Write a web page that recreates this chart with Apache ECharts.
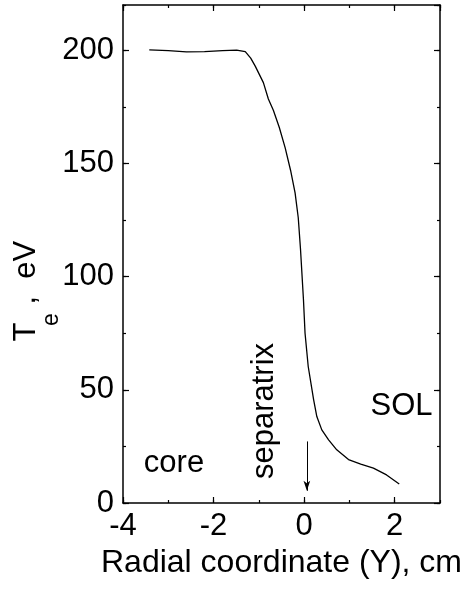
<!DOCTYPE html>
<html>
<head>
<meta charset="utf-8">
<script src="https://cdn.jsdelivr.net/npm/echarts@6/dist/echarts.min.js"></script>
<style>
  html, body { margin: 0; padding: 0; background: #fff; }
  #chart { width: 472px; height: 593px; }
</style>
</head>
<body>
<div id="chart"></div>
<script>
// Electron temperature profile across the separatrix
const radialCm = [-3.42, -3.0, -2.6, -2.2, -1.8, -1.49, -1.30, -1.18, -1.08, -0.90, -0.79, -0.68,
  -0.55, -0.42, -0.30, -0.20, -0.13, -0.08, -0.015, 0.02, 0.09, 0.21, 0.28, 0.39, 0.54, 0.72,
  0.98, 1.25, 1.53, 1.82, 2.10];
const teEv = [200.2, 199.8, 199.3, 199.4, 199.8, 200.1, 199.4, 196.5, 193, 185.7, 178.5, 173.5,
  166, 157, 147, 137, 126, 112, 89.8, 75, 60.3, 45.6, 38.2, 32.3, 27.9, 23.5,
  19.2, 17.2, 15.4, 12.4, 8.4];

// axis ranges and tick steps
const xRange = [-4, 3];
const xSteps = [2, 1];      // major, minor
const yRange = [0, 220];
const ySteps = [50, 25];

// separatrix marker arrow: x position, start and end temperature
const arrowX = 0.06;
const arrowTe = [27.2, 5.4];

const FONT = '"Liberation Sans", Arial, Helvetica, sans-serif';
const FS = 31;
const black = '#000';

function axis(kind, position, step, tickLen, withLine, withLabels) {
  const range = kind === 'x' ? xRange : yRange;
  return {
    type: 'value',
    gridIndex: 0,
    position: position,
    min: range[0],
    max: range[1],
    interval: step,
    axisLine: { show: withLine, onZero: false, lineStyle: { color: black, width: 1.5 } },
    axisTick: { show: true, inside: true, length: tickLen, lineStyle: { color: black, width: 1.2 } },
    axisLabel: {
      show: withLabels,
      color: black,
      fontFamily: FONT,
      fontSize: FS,
      margin: kind === 'x' ? 8 : 9,
      showMaxLabel: false
    },
    splitLine: { show: false },
    minorTick: { show: false }
  };
}

const chart = echarts.init(document.getElementById('chart'), null, { renderer: 'canvas' });

const xMain = axis('x', 'bottom', xSteps[0], 6, true, true);
xMain.name = 'Radial coordinate (Y), cm';
xMain.nameLocation = 'middle';
xMain.nameGap = 43;
xMain.nameTextStyle = { color: black, fontFamily: FONT, fontSize: 32 };

chart.setOption({
  animation: false,
  backgroundColor: '#fff',
  grid: { left: 123, right: 32, top: 5, bottom: 90, containLabel: false },
  xAxis: [
    xMain,
    axis('x', 'bottom', xSteps[1], 3, false, false),
    axis('x', 'top', xSteps[0], 6, true, false),
    axis('x', 'top', xSteps[1], 3, false, false)
  ],
  yAxis: [
    axis('y', 'left', ySteps[0], 6, true, true),
    axis('y', 'left', ySteps[1], 3, false, false),
    axis('y', 'right', ySteps[0], 6, true, false),
    axis('y', 'right', ySteps[1], 3, false, false)
  ],
  series: [{
    type: 'line',
    xAxisIndex: 0,
    yAxisIndex: 0,
    data: radialCm.map((x, i) => [x, teEv[i]]),
    symbol: 'none',
    showSymbol: false,
    smooth: false,
    silent: true,
    lineStyle: { color: black, width: 1.3 },
    markLine: {
      silent: true,
      animation: false,
      symbol: ['none', 'arrow'],
      symbolSize: [5, 10],
      label: { show: false },
      lineStyle: { color: black, width: 1, type: 'solid' },
      data: [[{ coord: [arrowX, arrowTe[0]] }, { coord: [arrowX, arrowTe[1]] }]]
    }
  }],
  graphic: [
    {
      type: 'text',
      x: 10.5,
      y: 289.4,
      rotation: Math.PI / 2,
      style: {
        text: '{t|T}{s|e}{m| ,  eV}',
        align: 'center',
        verticalAlign: 'top',
        fill: black,
        rich: {
          t: { fontSize: FS, fontFamily: FONT, lineHeight: FS, verticalAlign: 'top', width: 12, fill: black },
          m: { fontSize: FS, fontFamily: FONT, lineHeight: FS, verticalAlign: 'top', fill: black },
          s: { fontSize: 23, fontFamily: FONT, lineHeight: 23, verticalAlign: 'top',
               padding: [29.7, 0, 0, 0], fill: black }
        }
      }
    },
    {
      type: 'text',
      x: 264.3,
      y: 411,
      rotation: Math.PI / 2,
      style: { text: 'separatrix', fontSize: FS, fontFamily: FONT, fill: black,
               align: 'center', verticalAlign: 'middle' }
    },
    {
      type: 'text',
      x: 174,
      y: 463.3,
      style: { text: 'core', fontSize: FS, fontFamily: FONT, fill: black,
               align: 'center', verticalAlign: 'middle' }
    },
    {
      type: 'text',
      x: 401.5,
      y: 406.3,
      style: { text: 'SOL', fontSize: FS, fontFamily: FONT, fill: black,
               align: 'center', verticalAlign: 'middle' }
    }
  ]
});
</script>
</body>
</html>
